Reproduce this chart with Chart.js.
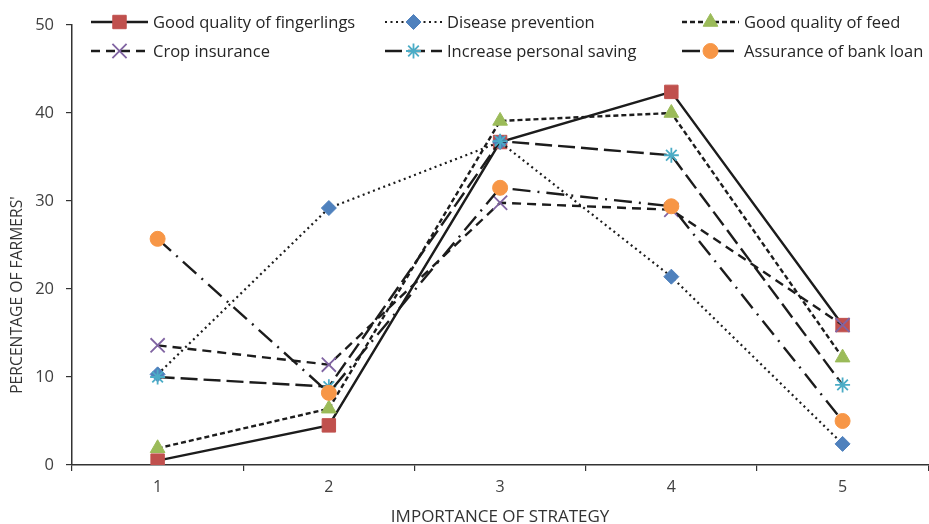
<!DOCTYPE html>
<html lang="en">
<head>
  <meta charset="UTF-8">
  <title>Importance of Strategy</title>
  <script src="https://cdn.jsdelivr.net/npm/chart.js"></script>
  <style>
    html, body {
      margin: 0;
      padding: 0;
      overflow: hidden;
      background: #fff;
    }
  </style>
</head>
<body>
  <canvas id="strategyChart" width="940" height="524"></canvas>

  <script>
    // Data
    const categories = ['1', '2', '3', '4', '5'];
    const fingerlings = [0.5, 4.5, 36.7, 42.4, 15.9];
    const diseasePrevention = [10.3, 29.2, 36.7, 21.4, 2.4];
    const feedQuality = [1.9, 6.4, 39.1, 40.0, 12.2];
    const cropInsurance = [13.6, 11.4, 29.8, 29.0, 15.9];
    const personalSaving = [10.0, 8.9, 36.8, 35.2, 9.1];
    const bankLoan = [25.7, 8.2, 31.5, 29.4, 5.0];

    const FONT = '"Open Sans"';
    const LINE = '#1c1c1c';

    function series(label, data, color, style, radius, dash, extra) {
      return Object.assign({
        label: label,
        data: data,
        borderColor: LINE,
        borderWidth: 2.4,
        borderDash: dash,
        pointStyle: style,
        pointRadius: radius,
        pointHoverRadius: radius,
        pointBackgroundColor: color,
        pointBorderColor: color,
        pointBorderWidth: 1,
        tension: 0,
        fill: false
      }, extra || {});
    }

    const datasets = [
      series('Good quality of fingerlings', fingerlings, '#C0504D', 'rect', 9.5, []),
      series('Disease prevention', diseasePrevention, '#4F81BD', 'rectRot', 7.5, [2, 3.5], { borderWidth: 2.2 }),
      series('Good quality of feed', feedQuality, '#9BBB59', 'triangle', 8.5, [5, 3]),
      series('Crop insurance', cropInsurance, '#8064A2', 'crossRot', 10, [9, 6], { pointBorderWidth: 1.8 }),
      series('Increase personal saving', personalSaving, '#4BACC6', 'star', 7.5, [17, 6], { pointBorderWidth: 1.8 }),
      series('Assurance of bank loan', bankLoan, '#F79646', 'circle', 7.5, [18, 7, 2, 7])
    ];
    // later series sit on top, like the original
    datasets.forEach((d, i) => { d.order = datasets.length - i; });

    // legend drawn by hand: two rows of three, each a line sample with its marker
    const legendPlugin = {
      id: 'lineLegend',
      afterDraw(chart) {
        const ctx = chart.ctx;
        const cols = [91, 385, 682];
        const rows = [22, 51];
        const sampleLen = 57;
        chart.data.datasets.forEach((ds, i) => {
          const x = cols[i % 3];
          const y = rows[Math.floor(i / 3)];
          ctx.save();
          ctx.strokeStyle = LINE;
          ctx.lineWidth = ds.borderWidth;
          ctx.setLineDash(ds.borderDash);
          ctx.beginPath();
          ctx.moveTo(x, y);
          ctx.lineTo(x + sampleLen, y);
          ctx.stroke();
          ctx.setLineDash([]);
          ctx.fillStyle = ds.pointBackgroundColor;
          ctx.strokeStyle = ds.pointBorderColor;
          ctx.lineWidth = ds.pointBorderWidth;
          Chart.helpers.drawPoint(ctx, {
            pointStyle: ds.pointStyle,
            radius: ds.pointRadius,
            rotation: 0,
            borderWidth: ds.pointBorderWidth
          }, x + sampleLen / 2, y);
          ctx.fillStyle = '#262626';
          ctx.font = '16.5px ' + FONT;
          ctx.textBaseline = 'middle';
          ctx.fillText(ds.label, x + 62, y + 1);
          ctx.restore();
        });

        // y axis title sits a little below the plot centre in the original
        ctx.save();
        ctx.translate(18, 295);
        ctx.rotate(-Math.PI / 2);
        ctx.fillStyle = '#333';
        ctx.font = '15.7px ' + FONT;
        ctx.textAlign = 'center';
        ctx.textBaseline = 'middle';
        ctx.fillText("PERCENTAGE OF FARMERS'", 0, 0);
        ctx.restore();
      }
    };

    const ctx = document.getElementById('strategyChart').getContext('2d');
    new Chart(ctx, {
      type: 'line',
      data: {
        labels: categories,
        datasets: datasets
      },
      options: {
        responsive: false,
        animation: false,
        devicePixelRatio: 1,
        layout: {
          padding: { top: 25, right: 5, left: 0, bottom: 0 }
        },
        plugins: {
          legend: { display: false },
          tooltip: { enabled: false }
        },
        scales: {
          x: {
            offset: true,
            grid: {
              drawOnChartArea: false,
              offset: true,
              tickLength: 6,
              color: '#333',
              lineWidth: 1.2
            },
            border: { color: '#333', width: 1.5 },
            ticks: {
              color: '#404040',
              font: { family: FONT, size: 16 },
              padding: 7
            },
            title: {
              display: true,
              text: 'IMPORTANCE OF STRATEGY',
              color: '#333',
              font: { family: FONT, size: 17 },
              padding: { top: 0, bottom: -3 }
            },
            afterFit(scale) { scale.height = 59; }
          },
          y: {
            min: 0,
            max: 50,
            ticks: {
              stepSize: 10,
              color: '#404040',
              font: { family: FONT, size: 16.5 },
              padding: 12
            },
            grid: {
              drawOnChartArea: false,
              tickLength: 6,
              color: '#333',
              lineWidth: 1.2
            },
            border: { color: '#333', width: 1.5 },
            afterFit(scale) { scale.width = 72; }
          }
        }
      },
      plugins: [legendPlugin]
    });
  </script>
</body>
</html>
